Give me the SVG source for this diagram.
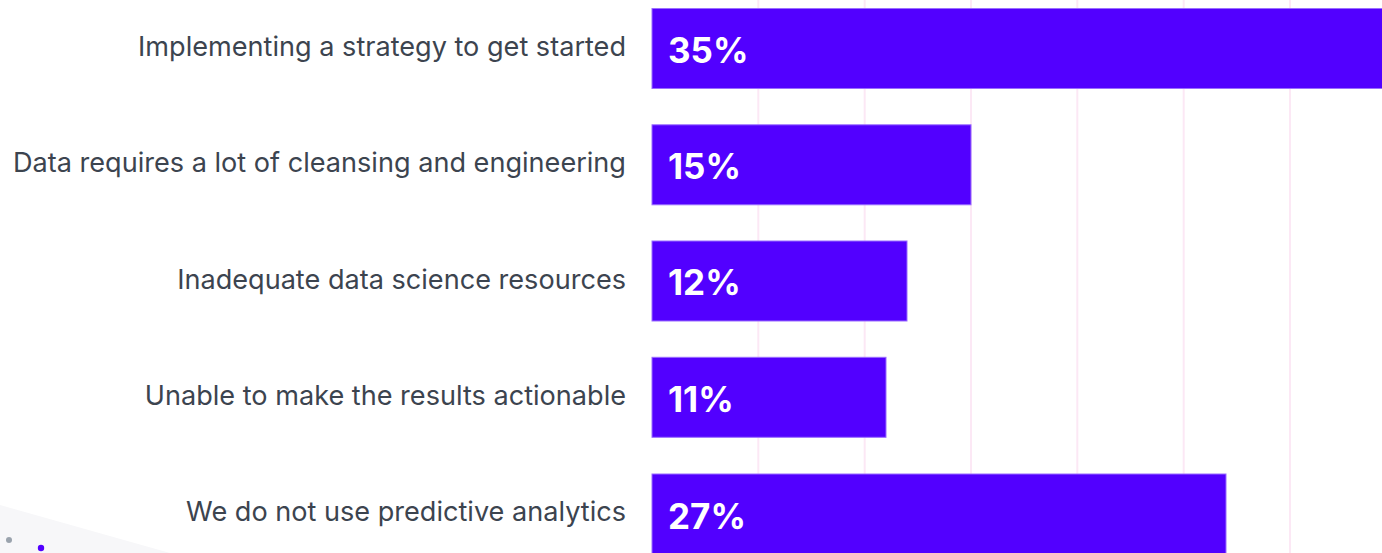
<svg xmlns="http://www.w3.org/2000/svg" width="1382" height="553" viewBox="0 0 1382 553">
<style>
.grid{stroke:#fce8f5;stroke-width:2}
.bar{fill:#5200ff;stroke:#9a6dff;stroke-width:1}
.lbl{font-family:Inter,"Liberation Sans",sans-serif;font-size:27.1px;fill:#3c444f;text-anchor:end}
.val{font-family:Inter,"Liberation Sans",sans-serif;font-size:35px;font-weight:700;fill:#ffffff}
</style>
<rect width="1382" height="553" fill="#ffffff"/>
<g id="background">
<polygon points="0,505 170,553 0,553" fill="#f7f7f9"/>
<circle cx="9" cy="540" r="3" fill="#9aa3ad"/>
<circle cx="41" cy="548" r="3.2" fill="#5200ff"/>
</g>
<g id="gridlines">
<line class="grid" x1="758.3" y1="0" x2="758.3" y2="553"/>
<line class="grid" x1="864.7" y1="0" x2="864.7" y2="553"/>
<line class="grid" x1="971" y1="0" x2="971" y2="553"/>
<line class="grid" x1="1077.3" y1="0" x2="1077.3" y2="553"/>
<line class="grid" x1="1183.7" y1="0" x2="1183.7" y2="553"/>
<line class="grid" x1="1290" y1="0" x2="1290" y2="553"/>
</g>
<g id="bar1">
<rect class="bar" x="652" y="8.5" width="744" height="80"/>
<text class="lbl" x="626" y="56">Implementing a strategy to get started</text>
<text class="val" x="668" y="62.5">35%</text>
</g>
<g id="bar2">
<rect class="bar" x="652" y="124.8" width="319" height="80"/>
<text class="lbl" x="626" y="172">Data requires a lot of cleansing and engineering</text>
<text class="val" x="668" y="178.5">15%</text>
</g>
<g id="bar3">
<rect class="bar" x="652" y="241" width="255" height="80"/>
<text class="lbl" x="626" y="288.5">Inadequate data science resources</text>
<text class="val" x="668" y="295">12%</text>
</g>
<g id="bar4">
<rect class="bar" x="652" y="357.3" width="234" height="80"/>
<text class="lbl" x="626" y="405">Unable to make the results actionable</text>
<text class="val" x="668" y="411.5">11%</text>
</g>
<g id="bar5">
<rect class="bar" x="652" y="474" width="574" height="90"/>
<text class="lbl" x="626" y="521">We do not use predictive analytics</text>
<text class="val" x="668" y="528.5">27%</text>
</g>
</svg>
